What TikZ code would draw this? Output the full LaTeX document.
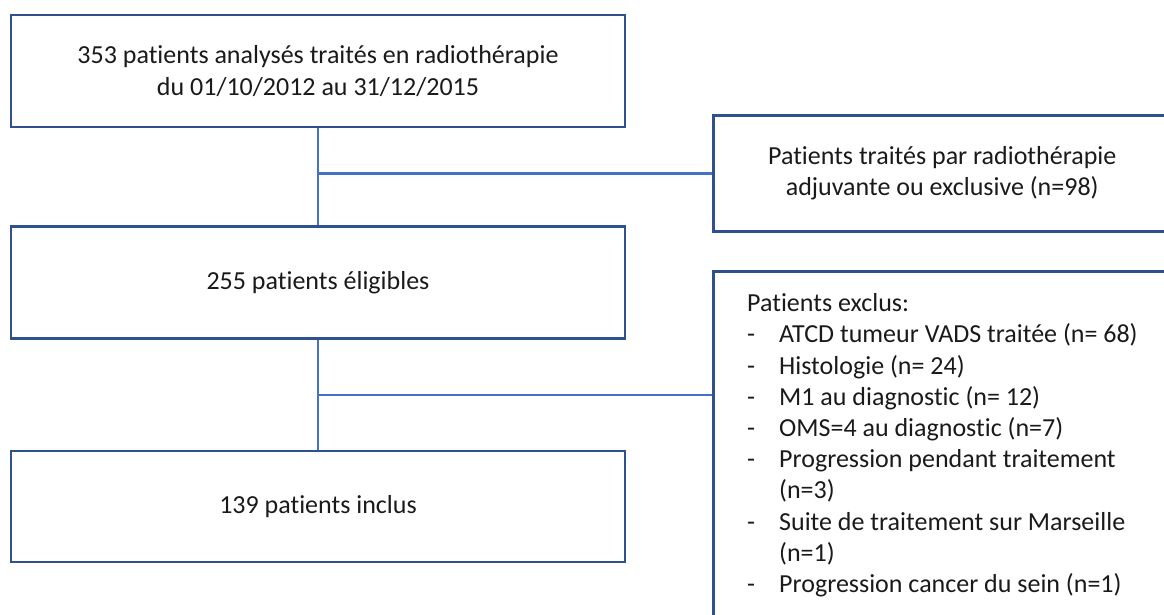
\documentclass[tikz,border=0pt]{standalone}
\usepackage{fontspec}
\setmainfont{Carlito}[Ligatures={NoCommon,NoContextual}]
\usetikzlibrary{positioning,backgrounds}
\definecolor{boxblue}{HTML}{2F528F}
\definecolor{linkblue}{HTML}{4472C4}
\definecolor{ink}{HTML}{1A1A1A}
\tikzset{
  flowbox/.style={draw=boxblue,line width=2.5pt,minimum width=614pt,minimum height=112pt,align=center,text=ink},
  sidebox/.style={draw=boxblue,line width=2.5pt,minimum width=458pt,anchor=north west,align=center,text=ink},
  link/.style={draw=linkblue,line width=2.5pt},
}
\newcommand{\excl}[1]{\makebox[32pt][l]{-}#1}
\begin{document}
\begin{tikzpicture}[x=1pt,y=-1pt,font=\fontsize{26}{31.2}\selectfont]
\clip (0,0) rectangle (1164,614);
% main column
\node[flowbox] (total) at (318,71) {353 patients analysés traités en radiothérapie\\du 01/10/2012 au 31/12/2015};
\node[flowbox,below=97pt of total] (elig) {255 patients éligibles};
\node[flowbox,below=110pt of elig,minimum height=111pt] (incl) {139 patients inclus};
% side boxes
\node[sidebox,minimum height=116pt] (treated) at (712,114) {Patients traités par radiothérapie\\adjuvante ou exclusive (n=98)};
\node[sidebox,minimum height=380pt] (excluded) at (712,270) {};
\node[text=ink,align=left,anchor=north west,inner sep=0pt] (excludedtxt) at ([xshift=35pt,yshift=-23.5pt]excluded.north west)
  {Patients exclus:\\
   \excl{ATCD tumeur VADS traitée (n= 68)}\\
   \excl{Histologie (n= 24)}\\
   \excl{M1 au diagnostic (n= 12)}\\
   \excl{OMS=4 au diagnostic (n=7)}\\
   \excl{Progression pendant traitement}\\
   \hspace*{32pt}(n=3)\\
   \excl{Suite de traitement sur Marseille}\\
   \hspace*{32pt}(n=1)\\
   \excl{Progression cancer du sein (n=1)}};
% connectors
\begin{scope}[on background layer]
\draw[link] (total) -- (elig);
\draw[link] (elig) -- (incl);
\draw[link] (treated.west) -- (treated.west -| total.south);
\path (elig.south) -- coordinate[pos=0.5] (split) (incl.north);
\draw[link] (split) -- (split -| excluded.west);
\end{scope}
\end{tikzpicture}
\end{document}
